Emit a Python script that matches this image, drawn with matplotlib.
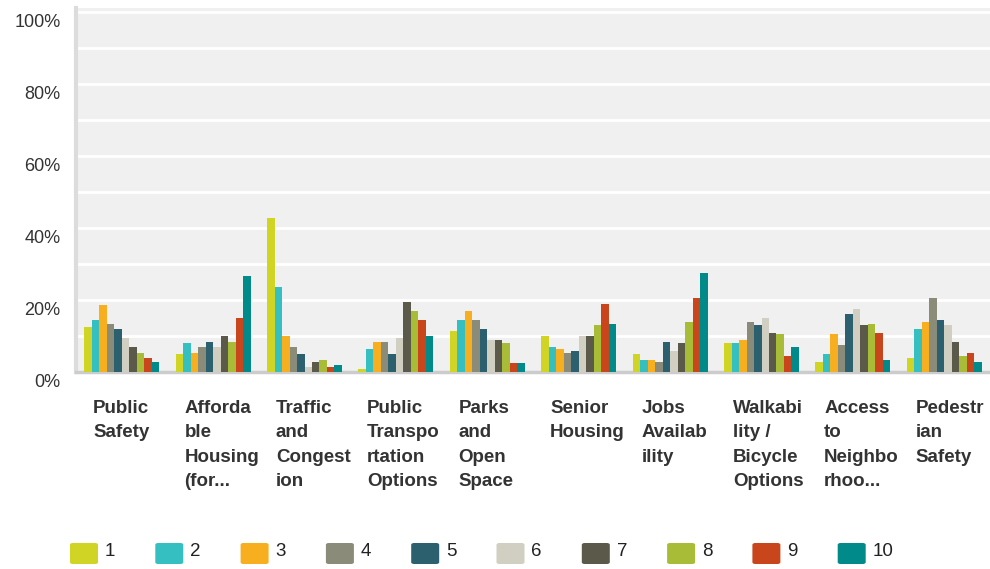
import numpy as np
import matplotlib
matplotlib.use("Agg")
import matplotlib.pyplot as plt
from matplotlib.patches import FancyBboxPatch
from matplotlib.transforms import ScaledTranslation, blended_transform_factory

plt.rcParams['font.family'] = ['Liberation Sans', 'DejaVu Sans']

categories = ["Public\nSafety", "Afforda\nble\nHousing\n(for...", "Traffic\nand\nCongest\nion",
              "Public\nTranspo\nrtation\nOptions", "Parks\nand\nOpen\nSpace", "Senior\nHousing",
              "Jobs\nAvailab\nility", "Walkabi\nlity /\nBicycle\nOptions", "Access\nto\nNeighbo\nrhoo...",
              "Pedestr\nian\nSafety"]
series_names = ["1", "2", "3", "4", "5", "6", "7", "8", "9", "10"]
colors = ["#d0d424", "#35bfc1", "#f7ae1f", "#8a8b79", "#2d606f",
          "#d0cfc1", "#5b5a4a", "#a9bc37", "#c9461c", "#008a8a"]

# percent of respondents, rows = category, cols = rank 1..10
values = np.array([
    [12.4, 14.4, 18.5, 13.2, 11.9, 9.4, 6.9, 5.2, 3.8, 2.7],
    [4.9, 8.0, 5.2, 6.9, 8.2, 6.9, 9.9, 8.2, 14.9, 26.6],
    [42.7, 23.5, 9.9, 6.9, 4.9, 1.3, 2.7, 3.2, 1.3, 1.9],
    [0.7, 6.3, 8.2, 8.2, 4.9, 9.4, 19.4, 16.9, 14.4, 9.9],
    [11.3, 14.4, 16.9, 14.4, 11.9, 8.8, 8.8, 8.0, 2.4, 2.4],
    [9.9, 6.9, 6.3, 5.2, 5.7, 9.9, 9.9, 13.0, 18.8, 13.2],
    [4.9, 3.2, 3.2, 2.7, 8.2, 5.7, 8.0, 13.8, 20.5, 27.4],
    [8.0, 8.0, 8.8, 13.8, 13.0, 14.9, 10.7, 10.5, 4.4, 6.9],
    [2.7, 4.9, 10.5, 7.4, 16.0, 17.4, 13.0, 13.2, 10.7, 3.2],
    [3.8, 11.9, 13.8, 20.5, 14.4, 13.0, 8.2, 4.4, 5.2, 2.7],
])

W, H = 990, 569
fig = plt.figure(figsize=(W / 100, H / 100), dpi=100)
ax = fig.add_axes([76 / W, (H - 371.5) / H, (W - 76) / W, 363.5 / H])
ax.set_facecolor("#f0f0f0")

x = np.arange(len(categories))
bw = 0.082
for j, name in enumerate(series_names):
    ax.bar(x + (j - 4.5) * bw, values[:, j], width=bw, color=colors[j], zorder=3)

ax.set_xlim(-0.5, len(categories) - 0.5)
ax.set_ylim(0, 101)
ax.set_yticks(range(0, 101, 20))
ax.set_yticklabels([f"{v}%" for v in range(0, 101, 20)], fontsize=13, color="#333333")
ax.set_yticks(range(10, 100, 20), minor=True)
ax.grid(axis="y", which="both", color="white", linewidth=2, zorder=1)
ax.tick_params(axis="y", which="both", length=0, pad=11)
ax.set_xticks([])
off = ScaledTranslation(0, -0.09, fig.dpi_scale_trans)
for lab in ax.get_yticklabels():
    lab.set_transform(lab.get_transform() + off)

for s in ["top", "right"]:
    ax.spines[s].set_visible(False)
ax.spines["bottom"].set_color("#cccccc")
ax.spines["bottom"].set_linewidth(2.5)
ax.spines["left"].set_color("#dcdcdc")
ax.spines["left"].set_linewidth(3)

trans = blended_transform_factory(ax.transData, ax.transAxes)
for i, cat in enumerate(categories):
    ax.text(i - 0.5 + 17 / 91.4, -0.078, cat, transform=trans, ha="left", va="top",
            fontsize=13.5, fontweight="bold", color="#333333", linespacing=1.58)

# legend drawn along the bottom
for j, name in enumerate(series_names):
    lx = 70 + j * 85.3
    fig.add_artist(FancyBboxPatch((lx / W, (H - 564) / H), 28 / W, 21 / H,
                                  boxstyle="round,pad=0,rounding_size=0.003",
                                  transform=fig.transFigure, facecolor=colors[j],
                                  edgecolor="none"))
    fig.text((lx + 35) / W, (H - 551) / H, name, fontsize=13.5, color="#222222",
             ha="left", va="center")

fig.savefig("out.png", dpi=100)
